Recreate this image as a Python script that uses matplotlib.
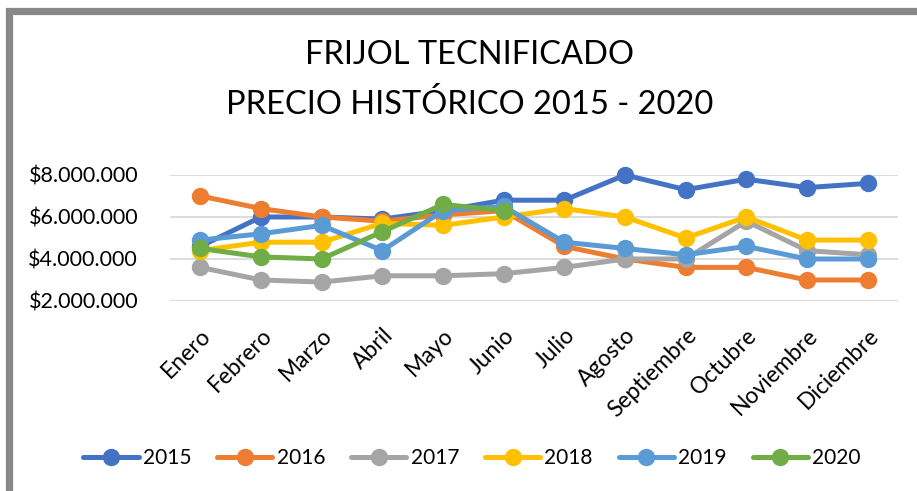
import matplotlib.pyplot as plt
import matplotlib.ticker as mticker
from matplotlib.patches import Rectangle
import numpy as np

# === datos ===
meses = ["Enero", "Febrero", "Marzo", "Abril", "Mayo", "Junio", "Julio",
         "Agosto", "Septiembre", "Octubre", "Noviembre", "Diciembre"]
p2015 = [4.6e6, 6.0e6, 6.0e6, 5.9e6, 6.3e6, 6.8e6, 6.8e6, 8.0e6, 7.3e6, 7.8e6, 7.4e6, 7.6e6]
p2016 = [7.0e6, 6.4e6, 6.0e6, 5.8e6, 6.1e6, 6.3e6, 4.6e6, 4.0e6, 3.6e6, 3.6e6, 3.0e6, 3.0e6]
p2017 = [3.6e6, 3.0e6, 2.9e6, 3.2e6, 3.2e6, 3.3e6, 3.6e6, 4.0e6, 4.0e6, 5.8e6, 4.4e6, 4.2e6]
p2018 = [4.4e6, 4.8e6, 4.8e6, 5.7e6, 5.6e6, 6.0e6, 6.4e6, 6.0e6, 5.0e6, 6.0e6, 4.9e6, 4.9e6]
p2019 = [4.9e6, 5.2e6, 5.6e6, 4.4e6, 6.3e6, 6.5e6, 4.8e6, 4.5e6, 4.2e6, 4.6e6, 4.0e6, 4.0e6]
p2020 = [4.5e6, 4.1e6, 4.0e6, 5.3e6, 6.6e6, 6.3e6]

series = [("2015", p2015, "#4472C4"), ("2016", p2016, "#ED7D31"),
          ("2017", p2017, "#A5A5A5"), ("2018", p2018, "#FFC000"),
          ("2019", p2019, "#5B9BD5"), ("2020", p2020, "#70AD47")]

plt.rcParams['font.family'] = ['Lato', 'DejaVu Sans']

fig = plt.figure(figsize=(9.17, 4.91), dpi=100)
ax = fig.add_axes([0.1854, 0.3870, 0.7939, 0.2566])

# marco gris recortado
fig.patches.append(Rectangle((8.5 / 917, -0.2), 1.3, 1.2 - 10.5 / 491,
                             transform=fig.transFigure, fill=False,
                             edgecolor="#888888", linewidth=5.2))

x = np.arange(len(meses))
for nombre, vals, color in series:
    ax.plot(x[:len(vals)], vals, color=color, linewidth=3.6, marker='o',
            markersize=11.5, label=nombre, clip_on=False,
            solid_capstyle='round', solid_joinstyle='round')

ax.set_xlim(-0.5, 11.5)
ax.set_ylim(2e6, 8e6)
ax.yaxis.set_major_locator(mticker.MultipleLocator(2e6))
ax.yaxis.set_major_formatter(mticker.FuncFormatter(
    lambda v, p: "$" + f"{v:,.0f}".replace(",", ".")))
ax.grid(axis='y', color="#D9D9D9", linewidth=1.3)
ax.set_axisbelow(True)
for s in ax.spines.values():
    s.set_visible(False)
ax.tick_params(length=0)
ax.tick_params(axis='y', labelsize=15.5, pad=23)
ax.set_xticks(x)
ax.set_xticklabels(meses, rotation=45, ha='right', va='top',
                   rotation_mode='anchor', fontsize=16.5)
ax.tick_params(axis='x', pad=17)

fig.text(0.5125, 0.888, "FRIJOL TECNIFICADO", ha='center', va='center', fontsize=23.5)
fig.text(0.5125, 0.788, "PRECIO HISTÓRICO 2015 - 2020", ha='center', va='center', fontsize=23.5)

fig.legend(loc='center', bbox_to_anchor=(0.5147, 0.067), ncol=6, frameon=False,
           fontsize=15, handlelength=2.65, columnspacing=1.25, handletextpad=0.2)

fig.savefig("out.png", dpi=100)
